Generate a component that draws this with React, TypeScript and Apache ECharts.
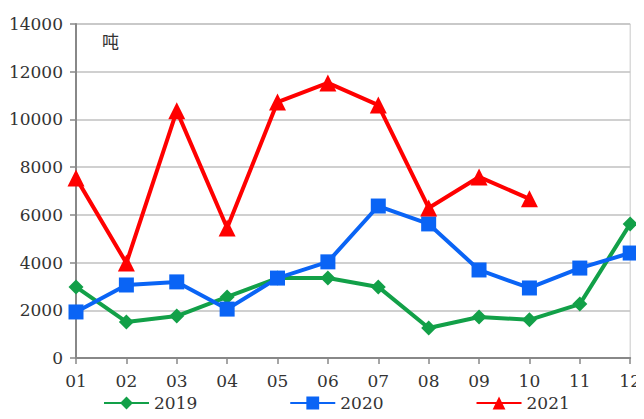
import React, { useEffect, useRef } from "react";
import * as echarts from "echarts";

const months = ["01", "02", "03", "04", "05", "06", "07", "08", "09", "10", "11", "12"];
const s2019 = [2980, 1510, 1760, 2560, 3350, 3350, 2980, 1260, 1720, 1600, 2260, 5620];
const s2020 = [1930, 3060, 3190, 2050, 3350, 4030, 6370, 5620, 3690, 2935, 3770, 4400];
const s2021 = [7550, 3980, 10360, 5450, 10730, 11530, 10600, 6290, 7590, 6670];
const unitLabel = "吨";

const FONT = "DejaVu Serif";

export default function App() {
  const ref = useRef<HTMLDivElement>(null);
  useEffect(() => {
    if (!ref.current) return;
    const chart = echarts.init(ref.current, null, { renderer: "svg" });
    const mk = (name: string, data: number[], color: string, symbol: string, size: number) => ({
      name,
      type: "line",
      data,
      symbol,
      symbolSize: size,
      showSymbol: true,
      lineStyle: { color, width: 4 },
      itemStyle: { color },
    });
    chart.setOption({
      animation: false,
      grid: {
        left: 76,
        right: 8,
        top: 24,
        bottom: 61,
        show: true,
        borderColor: "#c8c8c8",
        borderWidth: 1,
      },
      legend: {
        top: 389,
        left: 98,
        itemGap: 92,
        itemWidth: 45,
        itemHeight: 16,
        textStyle: { fontFamily: FONT, fontSize: 17, color: "#333", lineHeight: 18 },
        data: ["2019", "2020", "2021"],
      },
      graphic: [
        {
          type: "text",
          left: 102,
          top: 32,
          style: { text: unitLabel, fontSize: 17, fill: "#333", fontFamily: "Noto Sans CJK SC" },
        },
      ],
      xAxis: {
        type: "category",
        data: months,
        boundaryGap: false,
        axisLine: { lineStyle: { color: "#888", width: 2 } },
        axisTick: { show: true, alignWithLabel: true, length: 6, lineStyle: { color: "#888", width: 1.5 } },
        axisLabel: { fontFamily: FONT, fontSize: 17, color: "#333", margin: 14 },
        splitLine: { show: false },
      },
      yAxis: {
        type: "value",
        min: 0,
        max: 14000,
        interval: 2000,
        axisLine: { show: true, lineStyle: { color: "#888", width: 2 } },
        axisTick: { show: true, length: 6, lineStyle: { color: "#888", width: 1.5 } },
        axisLabel: { fontFamily: FONT, fontSize: 17, color: "#333", margin: 13, formatter: (v: number) => String(v) },
        splitLine: { show: true, lineStyle: { color: "#c0c0c0", width: 1.5 } },
      },
      series: [
        mk("2019", s2019, "#12a048", "diamond", 15),
        mk("2020", s2020, "#0a64f5", "rect", 15),
        mk("2021", s2021, "#ff0000", "triangle", 17),
      ],
    });
    return () => chart.dispose();
  }, []);
  return <div ref={ref} style={{ width: 644, height: 419, margin: -8 }} />;
}
